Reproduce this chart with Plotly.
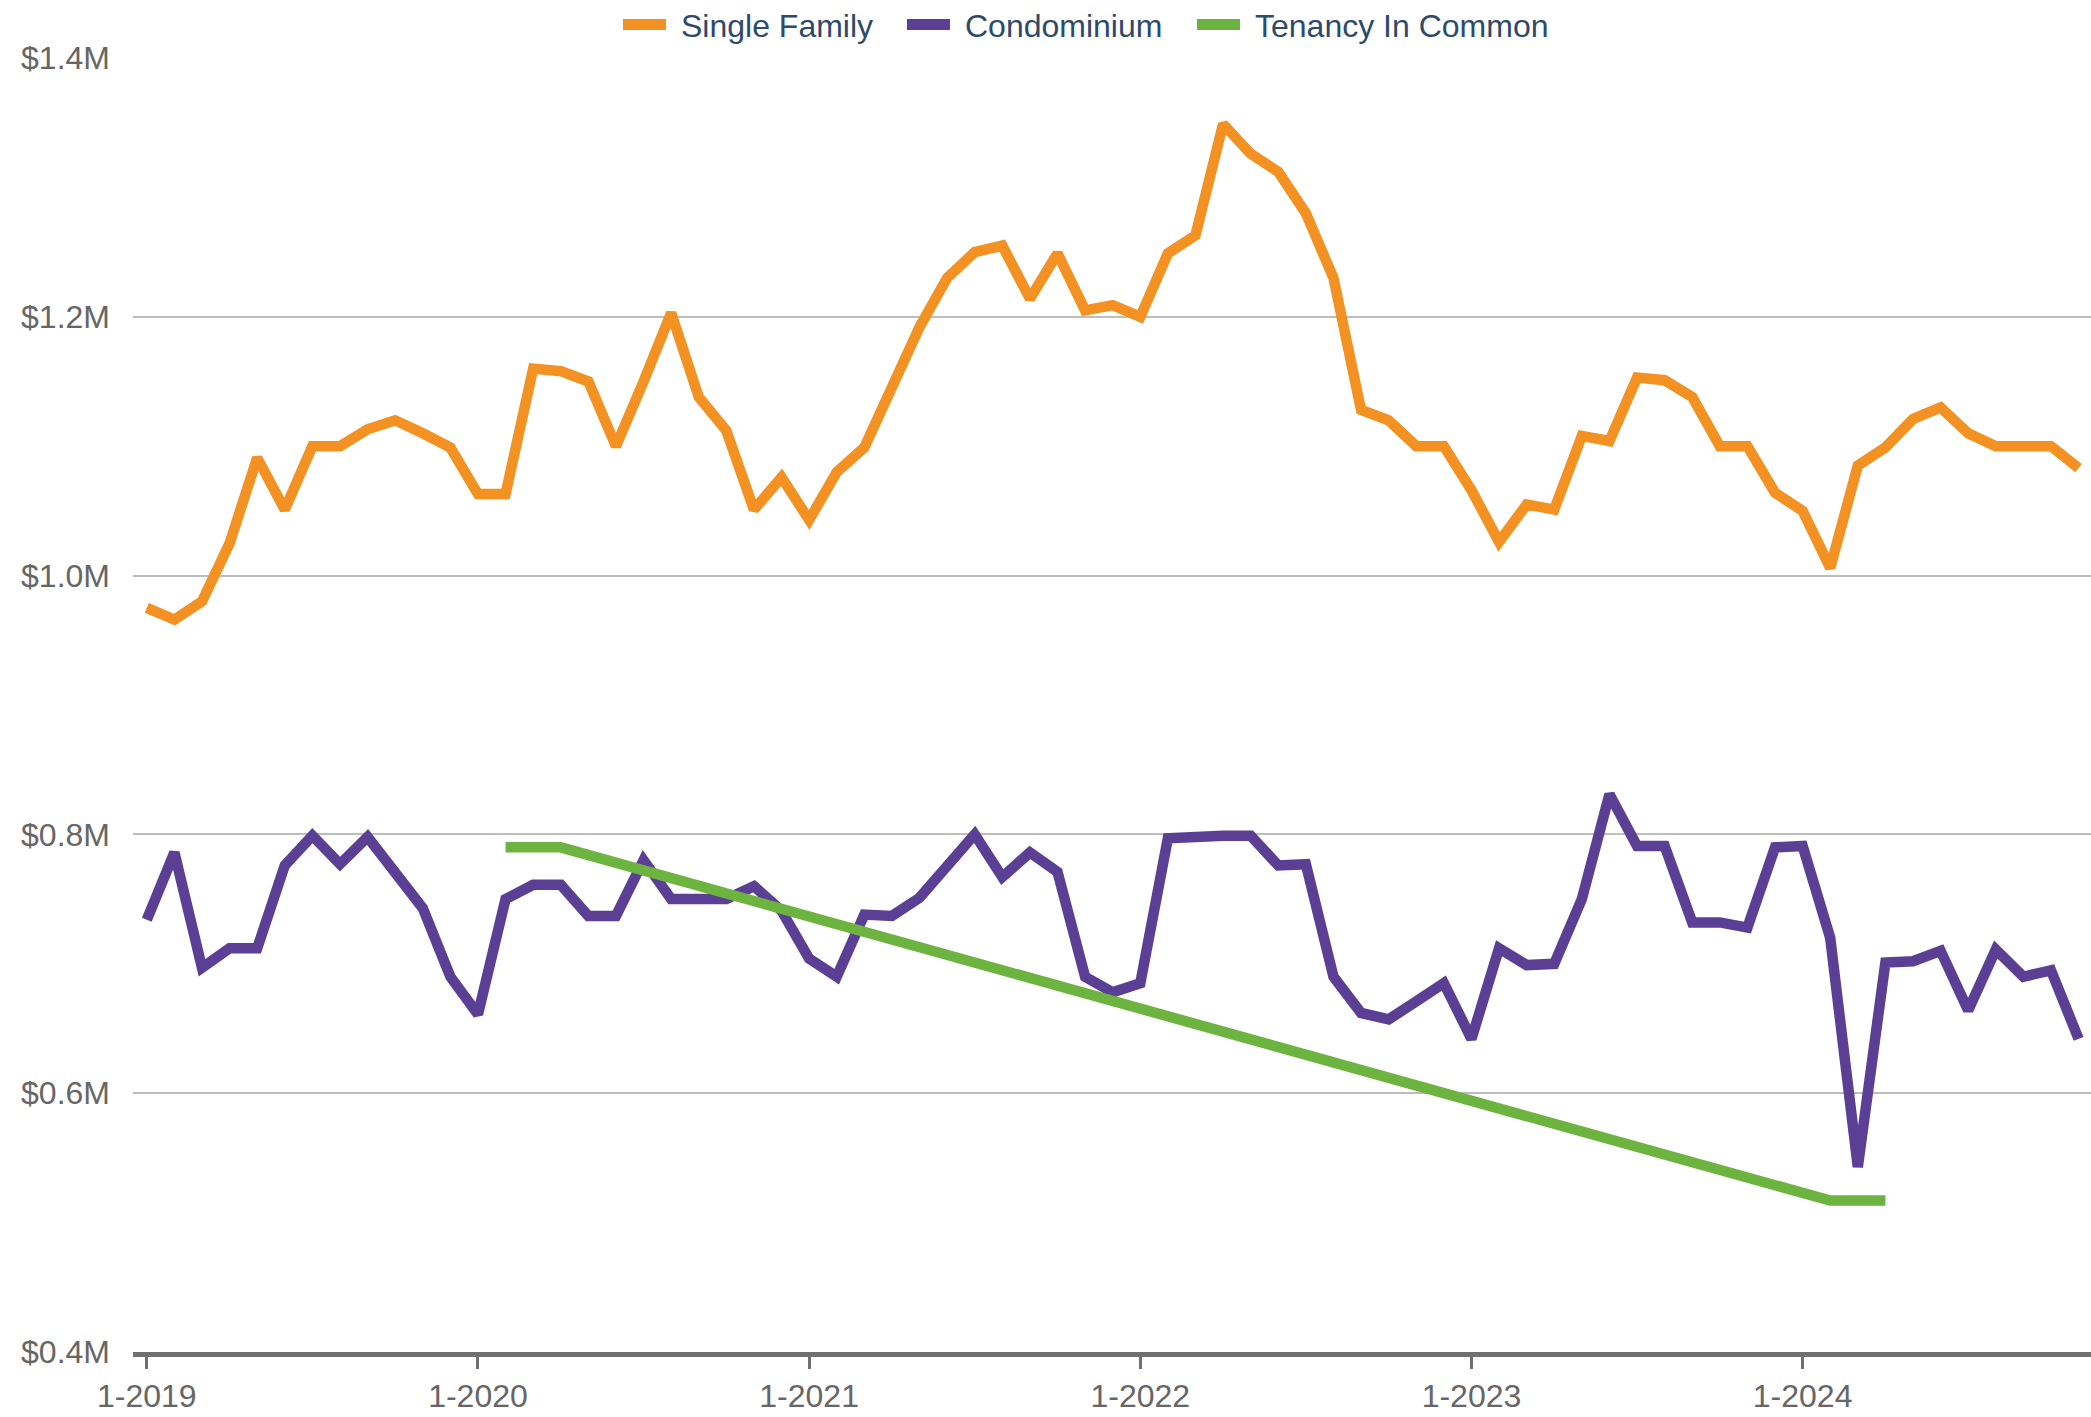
import plotly.graph_objects as go

# Monthly median sale price, Jan 2019 – Nov 2024
years = [2019, 2020, 2021, 2022, 2023, 2024]
months = [f"{m}-{y}" for y in years for m in range(1, 13)][:71]

single_family = [
    975000, 966000, 980000, 1025000, 1091000, 1051000, 1100000, 1100000, 1113000, 1120000, 1110000, 1099000,
    1063000, 1063000, 1160000, 1158000, 1150000, 1100000, 1150000, 1203000, 1138000, 1112000, 1051000, 1076000,
    1043000, 1080000, 1099000, 1148000, 1192000, 1230000, 1250000, 1255000, 1214000, 1249000, 1205000, 1209000,
    1200000, 1249000, 1263000, 1349000, 1326000, 1312000, 1280000, 1230000, 1128000, 1120000, 1100000, 1100000,
    1066000, 1026000, 1055000, 1051000, 1108000, 1104000, 1153000, 1151000, 1138000, 1100000, 1100000, 1064000,
    1050000, 1006000, 1085000, 1099000, 1121000, 1130000, 1110000, 1100000, 1100000, 1100000, 1083000,
]

condominium = [
    734000, 786000, 697000, 712000, 712000, 776000, 799000, 777000, 798000, 769000, 743000, 690000,
    661000, 750000, 761000, 761000, 737000, 737000, 780000, 750000, 750000, 750000, 760000, 741000,
    704000, 690000, 738000, 737000, 751000, 776000, 800000, 767000, 786000, 771000, 690000, 678000,
    685000, 797000, 799000, 799000, 799000, 776000, 777000, 690000, 662000, 657000, 671000, 685000,
    642000, 712000, 699000, 700000, 750000, 831000, 791000, 791000, 732000, 732000, 728000, 790000,
    791000, 720000, 543000, 701000, 702000, 710000, 664000, 711000, 690000, 695000, 642000,
]

# Tenancy in common: sparse months, bridged across gaps
tenancy_in_common = [None] * 71
for i, v in [(13, 790000), (14, 790000), (15, 790000),
             (61, 517000), (62, 517000), (63, 517000)]:
    tenancy_in_common[i] = v

y_tick_vals = [400000, 600000, 800000, 1000000, 1200000, 1400000]
y_tick_text = ["$0.4M", "$0.6M", "$0.8M", "$1.0M", "$1.2M", "$1.4M"]
x_tick_labels = ["1-2019", "1-2020", "1-2021", "1-2022", "1-2023", "1-2024"]

series = [
    ("Single Family", single_family, "#F39223"),
    ("Condominium", condominium, "#5B3F94"),
    ("Tenancy In Common", tenancy_in_common, "#6CB33F"),
]

W, H = 2091, 1417
M_L, M_R, M_T, M_B = 133, 0, 58, 65
PLOT_W = W - M_L - M_R
PLOT_H = H - M_T - M_B


def px_to_paper_x(px):
    return (px - M_L) / PLOT_W


def px_to_paper_y(py):
    return 1 + (M_T - py) / PLOT_H


fig = go.Figure()
for name, vals, color in series:
    fig.add_trace(go.Scatter(
        x=months, y=vals, name=name, mode="lines",
        connectgaps=True, showlegend=False,
        line=dict(color=color, width=10.5),
    ))

font_family = "Liberation Sans, Arial, Helvetica, sans-serif"

# Top legend: swatch + label for each series
legend_swatch_left = [623, 907, 1197]
swatch_len, label_gap, legend_y = 43, 13, 24.5
shapes, annotations = [], []
for (name, _, color), left in zip(series, legend_swatch_left):
    shapes.append(dict(
        type="line", xref="paper", yref="paper",
        x0=px_to_paper_x(left), x1=px_to_paper_x(left + swatch_len),
        y0=px_to_paper_y(legend_y), y1=px_to_paper_y(legend_y),
        line=dict(color=color, width=11),
    ))
    annotations.append(dict(
        text=name, xref="paper", yref="paper",
        x=px_to_paper_x(left + swatch_len + label_gap), xanchor="left",
        y=px_to_paper_y(legend_y + 1), yanchor="middle",
        showarrow=False,
        font=dict(family=font_family, size=32, color="#2E4A6B"),
    ))

fig.update_layout(
    width=W, height=H,
    margin=dict(l=M_L, r=M_R, t=M_T, b=M_B),
    paper_bgcolor="white", plot_bgcolor="white",
    font=dict(family=font_family, color="#666666", size=32),
    showlegend=False,
    shapes=shapes,
    annotations=annotations,
    xaxis=dict(
        type="category",
        range=[-0.5, 70.45],
        tickmode="array", tickvals=x_tick_labels, ticktext=x_tick_labels,
        showgrid=False, zeroline=False,
        showline=True, linecolor="#707070", linewidth=5,
        ticks="outside", ticklen=12, tickwidth=3, tickcolor="#707070",
        tickfont=dict(size=32, color="#666666"),
    ),
    yaxis=dict(
        range=[400000, 1400000],
        tickmode="array", tickvals=y_tick_vals, ticktext=y_tick_text,
        showgrid=True, gridcolor="#BDBDBD", gridwidth=2,
        zeroline=False, showline=False, ticks="",
        ticklabelstandoff=22,
        tickfont=dict(size=32, color="#666666"),
    ),
)

fig.write_html("out.html")
